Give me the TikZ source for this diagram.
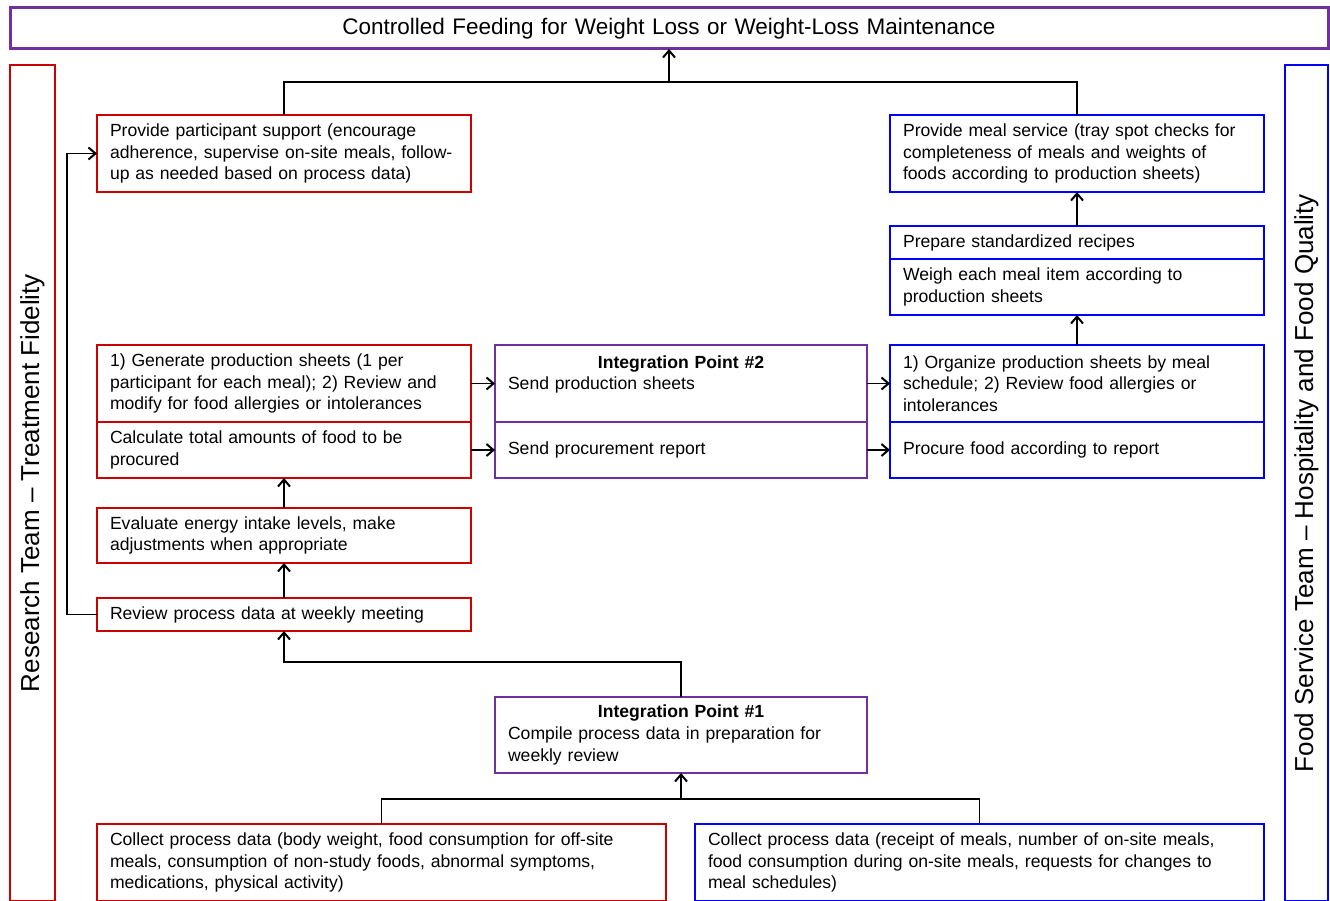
\documentclass[tikz,border=0pt]{standalone}
\usepackage{fontspec}
\setmainfont{Liberation Sans}
\usetikzlibrary{arrows.meta}
\definecolor{rd}{RGB}{204,0,0}
\definecolor{bl}{RGB}{0,0,255}
\definecolor{pu}{RGB}{112,48,160}
\begin{document}
\begin{tikzpicture}[x=1pt,y=-1pt,
  bx/.style={draw=#1, line width=2pt, anchor=north west, outer sep=0pt, inner xsep=13pt, inner ysep=0pt, align=left, font=\fontsize{17.6}{21.7}\selectfont},
  arr/.style={line width=1.8pt, -{Straight Barb[length=7pt,width=12pt,line width=2pt]}},
  ln/.style={line width=1.8pt},
  side/.style={draw=#1, line width=2pt, anchor=north west, outer sep=0pt, inner sep=0pt, minimum height=836pt},
  sidetext/.style={rotate=90, font=\fontsize{26}{30}\selectfont}]
\useasboundingbox (0,0) rectangle (1330,901);
% title
\node[bx=pu, line width=3pt, text width=1292pt, minimum height=41pt, align=center, font=\fontsize{22.5}{26}\selectfont] (T) at (10,8) {Controlled Feeding for Weight Loss or Weight-Loss Maintenance};
% side boxes
\node[side=rd, minimum width=45pt] (SL) at (10,65) {};
\node[sidetext] (SLt) at (SL.center) {Research Team – Treatment Fidelity};
\node[side=bl, minimum width=43pt] (SR) at (1285,65) {};
\node[sidetext] (SRt) at (SR.center) {Food Service Team – Hospitality and Food Quality};
% left column
\node[bx=rd, text width=348pt, minimum height=77pt] (A) at (97,115) {Provide participant support (encourage\\adherence, supervise on-site meals, follow-\\up as needed based on process data)};
\node[bx=rd, text width=348pt, minimum height=77pt] (G) at (97,345) {1) Generate production sheets (1 per\\participant for each meal); 2) Review and\\modify for food allergies or intolerances};
\node[bx=rd, text width=348pt, minimum height=56pt] (C) at (97,422) {Calculate total amounts of food to be\\procured};
\node[bx=rd, text width=348pt, minimum height=55pt] (E) at (97,508) {Evaluate energy intake levels, make\\adjustments when appropriate};
\node[bx=rd, text width=348pt, minimum height=33pt] (V) at (97,598) {Review process data at weekly meeting};
% right column
\node[bx=bl, text width=348pt, minimum height=77pt] (B) at (890,115) {Provide meal service (tray spot checks for\\completeness of meals and weights of\\foods according to production sheets)};
\node[bx=bl, text width=348pt, minimum height=33pt] (R1) at (890,226) {Prepare standardized recipes};
\node[bx=bl, text width=348pt, minimum height=56pt] (R2) at (890,259) {Weigh each meal item according to\\production sheets};
\node[bx=bl, text width=348pt, minimum height=77pt] (O) at (890,345) {1) Organize production sheets by meal\\schedule; 2) Review food allergies or\\intolerances};
\node[bx=bl, text width=348pt, minimum height=56pt] (P) at (890,422) {Procure food according to report};
% integration points
\node[bx=pu, text width=346pt, minimum height=77pt] (I2a) at (495,345) {\makebox[346pt]{\textbf{Integration Point \#2}}\\Send production sheets\\\mbox{}};
\node[bx=pu, text width=346pt, minimum height=56pt] (I2b) at (495,422) {Send procurement report};
\node[bx=pu, text width=346pt, minimum height=76pt] (I1) at (495,697) {\makebox[346pt]{\textbf{Integration Point \#1}}\\Compile process data in preparation for\\weekly review};
% bottom
\node[bx=rd, text width=543pt, minimum height=77pt] (CL) at (97,824) {Collect process data (body weight, food consumption for off-site\\meals, consumption of non-study foods, abnormal symptoms,\\medications, physical activity)};
\node[bx=bl, text width=543pt, minimum height=77pt] (CR) at (695,824) {Collect process data (receipt of meals, number of on-site meals,\\food consumption during on-site meals, requests for changes to\\meal schedules)};
% connectors
\coordinate (J) at (T.south |- 0,82);
\draw[ln] (A.north) -- (A.north |- J) -- (B.north |- J) -- (B.north);
\draw[arr] (J) -- (T.south);
\draw[arr] (R1.north) -- (B.south);
\draw[arr] (O.north) -- (R2.south);
\draw[arr] (E.north) -- (C.south);
\draw[arr] (V.north) -- (E.south);
\draw[arr] (V.west) -- ++(-30,0) |- (A.west);
\draw[arr] (G.east) -- (I2a.west);
\draw[arr] (C.east) -- (I2b.west);
\draw[arr] (I2a.east) -- (O.west);
\draw[arr] (I2b.east) -- (P.west);
\coordinate (K) at (I1.north |- 0,662);
\draw[arr] (I1.north) -- (K) -| (V.south);
\coordinate (M) at (I1.south |- 0,799);
\draw[ln] (CL.north) |- (M) -| (CR.north);
\draw[arr] (M) -- (I1.south);
\end{tikzpicture}
\end{document}
